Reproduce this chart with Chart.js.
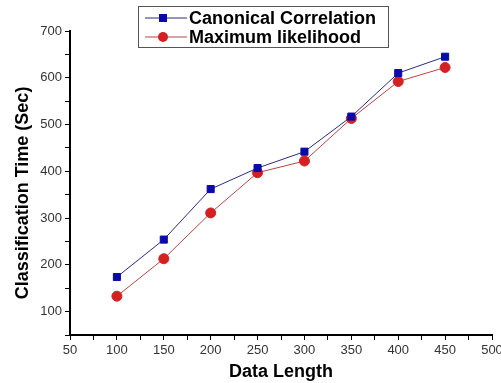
<!DOCTYPE html>
<html>
<head>
<meta charset="utf-8">
<script src="https://cdn.jsdelivr.net/npm/chart.js@4"></script>
<style>
  html, body { margin: 0; padding: 0; background: #fff; }
  #wrap { width: 501px; height: 383px; position: relative; }
</style>
</head>
<body>
<div id="wrap"><canvas id="timeChart"></canvas></div>
<script>
// data
const dataLength = [100, 150, 200, 250, 300, 350, 400, 450];
const canonical = [174, 254, 362, 407, 442, 517, 610, 645];
const maxLikelihood = [133, 213, 311, 397, 422, 513, 592, 622];

const FONT = '"Liberation Sans", Arial, sans-serif';

// boxed legend drawn inside the top of the figure, items stacked,
// plus the rotated y-axis title (sits a bit below the axis centre in the original)
const boxLegend = {
    id: 'boxLegend',
    afterDraw(chart) {
        const ctx = chart.ctx;
        const x0 = 138, y0 = 6, w = 250, h = 41;
        ctx.save();
        ctx.fillStyle = '#fff';
        ctx.fillRect(x0, y0, w, h);
        ctx.strokeStyle = '#555';
        ctx.lineWidth = 1;
        ctx.strokeRect(x0 + 0.5, y0 + 0.5, w, h);
        chart.data.datasets.forEach((ds, i) => {
            const cy = y0 + 12 + i * 19;
            ctx.strokeStyle = ds.borderColor;
            ctx.lineWidth = 1;
            ctx.beginPath();
            ctx.moveTo(x0 + 7, cy);
            ctx.lineTo(x0 + 49, cy);
            ctx.stroke();
            ctx.fillStyle = ds.pointBackgroundColor;
            if (ds.pointStyle === 'rect') {
                ctx.fillRect(x0 + 21, cy - 4, 8, 8);
            } else {
                ctx.beginPath();
                ctx.arc(x0 + 25, cy, 5, 0, Math.PI * 2);
                ctx.fill();
            }
            ctx.fillStyle = '#000';
            ctx.font = 'bold 18px ' + FONT;
            ctx.textBaseline = 'middle';
            ctx.fillText(ds.label, x0 + 51, cy + 1);
        });

        ctx.translate(23, 193);
        ctx.rotate(-Math.PI / 2);
        ctx.textAlign = 'center';
        ctx.textBaseline = 'middle';
        ctx.font = 'bold 18px ' + FONT;
        ctx.fillStyle = '#000';
        ctx.fillText('Classification Time (Sec)', 0, 0);
        ctx.restore();
    }
};

new Chart(document.getElementById('timeChart').getContext('2d'), {
    type: 'line',
    data: {
        datasets: [{
            label: 'Canonical Correlation',
            data: dataLength.map((x, i) => ({ x: x, y: canonical[i] })),
            borderColor: '#2b2b7a',
            borderWidth: 1,
            pointStyle: 'rect',
            pointRadius: 5,
            pointBackgroundColor: '#0a0aa8',
            pointBorderColor: '#0a0aa8'
        }, {
            label: 'Maximum likelihood',
            data: dataLength.map((x, i) => ({ x: x, y: maxLikelihood[i] })),
            borderColor: '#b94545',
            borderWidth: 1,
            pointStyle: 'circle',
            pointRadius: 5,
            pointBackgroundColor: '#d42020',
            pointBorderColor: '#d42020'
        }]
    },
    options: {
        responsive: true,
        maintainAspectRatio: false,
        animation: false,
        layout: { padding: { top: 31, right: 9, left: 0, bottom: 0 } },
        plugins: { legend: { display: false }, tooltip: { enabled: false } },
        scales: {
            x: {
                type: 'linear',
                min: 50,
                max: 500,
                ticks: {
                    stepSize: 25,
                    autoSkip: false,
                    maxRotation: 0,
                    color: '#333',
                    font: { family: FONT, size: 13 },
                    padding: 3,
                    callback: v => (v % 50 === 0 ? v : '')
                },
                grid: { drawOnChartArea: false, color: '#000', tickLength: 5 },
                border: { color: '#000', width: 2 },
                title: {
                    display: true,
                    text: 'Data Length',
                    color: '#000',
                    font: { family: FONT, size: 18, weight: 'bold' },
                    padding: { top: 3, bottom: 0 }
                },
                afterFit(scale) {
                    scale.height = 48;
                    scale.paddingLeft = 0;
                    scale.paddingRight = 0;
                }
            },
            y: {
                min: 50,
                max: 700,
                ticks: {
                    stepSize: 50,
                    autoSkip: false,
                    color: '#333',
                    font: { family: FONT, size: 13 },
                    padding: 3,
                    callback: v => (v % 100 === 0 ? v : '')
                },
                grid: { drawOnChartArea: false, color: '#000', tickLength: 5 },
                border: { color: '#000', width: 2 },
                afterFit(scale) {
                    scale.width = 70;
                    scale.paddingTop = 0;
                    scale.paddingBottom = 0;
                }
            }
        }
    },
    plugins: [boxLegend]
});
</script>
</body>
</html>
